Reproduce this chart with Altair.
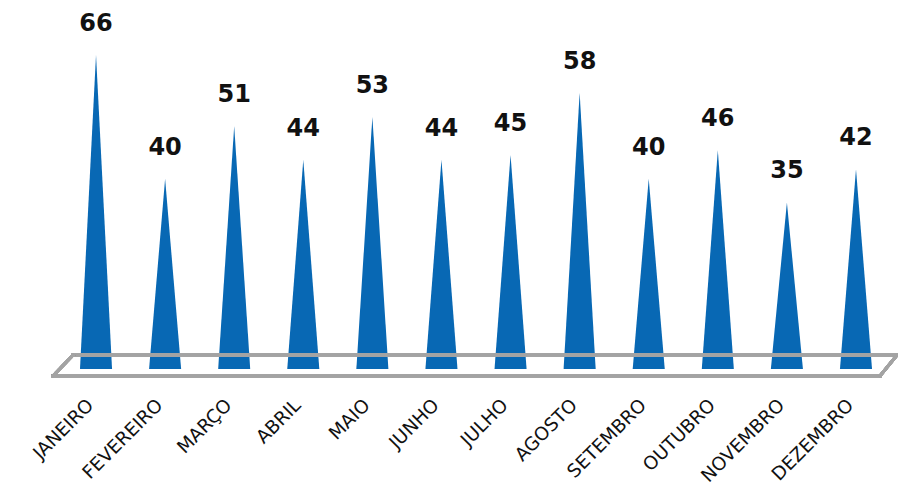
import altair as alt
import pandas as pd

months = ["JANEIRO", "FEVEREIRO", "MARÇO", "ABRIL", "MAIO", "JUNHO",
          "JULHO", "AGOSTO", "SETEMBRO", "OUTUBRO", "NOVEMBRO", "DEZEMBRO"]
values = [66, 40, 51, 44, 53, 44, 45, 58, 40, 46, 35, 42]

BLUE = "#0868b4"
GRAY = "#a3a3a3"
HALF = 0.232  # half base width of each cone, in category units

rows = []
for i, (m, v) in enumerate(zip(months, values)):
    rows.append({"m": m, "x": i - HALF, "y": 0})
    rows.append({"m": m, "x": i, "y": v})
    rows.append({"m": m, "x": i + HALF, "y": 0})
tri = pd.DataFrame(rows)
lab = pd.DataFrame({"m": months, "i": list(range(len(months))), "v": values})

xs = alt.Scale(domain=[-1.274, 11.608], nice=False, zero=False)
ys = alt.Scale(domain=[-24.8, 75.87], nice=False, zero=False)

cones = alt.Chart(tri).mark_area(color=BLUE, opacity=1).encode(
    x=alt.X("x:Q", scale=xs, axis=None),
    y=alt.Y("y:Q", scale=ys, axis=None),
    y2=alt.datum(0),
    detail="m:N",
)

vals = alt.Chart(lab).mark_text(
    font="DejaVu Sans", fontSize=24, fontWeight="bold", color="#111111",
    baseline="alphabetic", align="center", dy=-24,
).encode(
    x=alt.X("i:Q", scale=xs),
    y=alt.Y("v:Q", scale=ys),
    text="v:Q",
)

names = alt.Chart(lab).mark_text(
    font="DejaVu Sans", fontSize=18.5, color="#111111",
    baseline="alphabetic", align="right", angle=315, dx=-2,
).encode(
    x=alt.X("i:Q", scale=xs),
    y=alt.value(397),
    text="m:N",
)

def edge(x1, y1, x2, y2):
    return alt.Chart(lab).mark_rule(color=GRAY, strokeWidth=3, strokeCap="square").encode(
        x=alt.value(x1), y=alt.value(y1), x2=alt.value(x2), y2=alt.value(y2)
    )

floor = (
    edge(65, 347, 889, 347)
    + edge(45, 368, 872, 368)
    + edge(45, 368, 65, 347)
    + edge(872, 368, 889, 347)
)

chart = alt.layer(cones, floor, vals, names).properties(
    width=890, height=479,
    autosize=alt.AutoSizeParams(type="none"),
    padding={"left": 0, "top": 0, "right": 0, "bottom": 0},
).configure_view(stroke=None)

chart.save("out.html", embed_options={"renderer": "svg", "actions": False})
